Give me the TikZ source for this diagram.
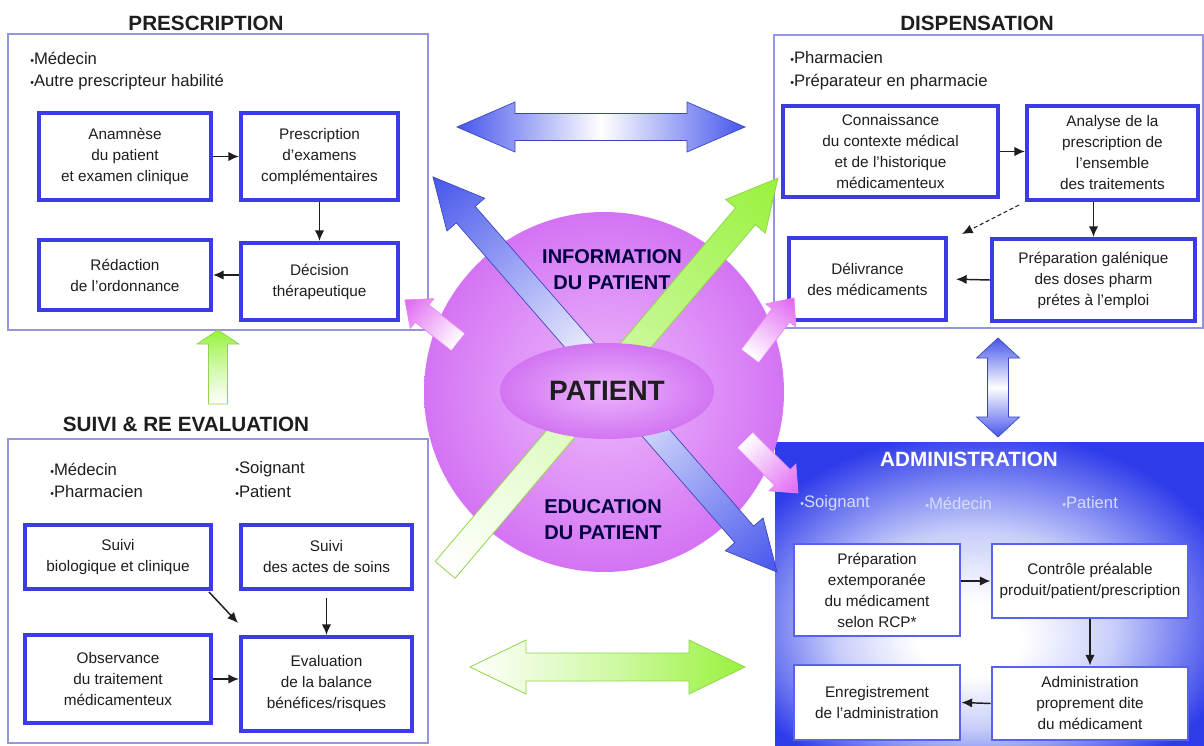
\documentclass[tikz,border=0pt]{standalone}
\usepackage{fontspec}
\setmainfont{Liberation Sans}
\usetikzlibrary{arrows.meta,shapes.geometric}
\definecolor{boxblue}{HTML}{3C3CE6}
\definecolor{frameblue}{HTML}{9494E2}
\definecolor{admblue}{HTML}{2E3BEA}
\definecolor{arrblue}{HTML}{4656EC}
\definecolor{lgreen}{HTML}{98F23C}
\definecolor{ballin}{HTML}{ECB8FB}
\definecolor{ballm}{HTML}{DE90F7}
\definecolor{ballmid}{HTML}{CA56F0}
\definecolor{ballout}{HTML}{B832EA}
\definecolor{elin}{HTML}{ECB4FB}
\definecolor{elout}{HTML}{B834EA}
\definecolor{pinkarr}{HTML}{E064F2}
\definecolor{admlite}{HTML}{D4DCFF}
\definecolor{admglow}{HTML}{C8CEFA}
\definecolor{txt}{HTML}{1E1E1E}
\pgfdeclareradialshading{ballshade}{\pgfpoint{0bp}{0bp}}{color(0bp)=(ballin); color(15bp)=(ballm); color(35bp)=(ballmid); color(50bp)=(ballout)}
\pgfdeclareradialshading{elshade}{\pgfpoint{0bp}{0bp}}{color(0bp)=(elin); color(50bp)=(elout)}
\pgfdeclareradialshading{admshade}{\pgfpoint{-3bp}{-8bp}}{color(0bp)=(white); color(6bp)=(white); color(16bp)=(admglow); color(30bp)=(admblue); color(50bp)=(admblue)}
\tikzset{
  inbox/.style={draw=boxblue, line width=3pt, fill=white, align=center, inner sep=0pt, text=txt, font=\fontsize{11.5}{15.75}\selectfont},
  admbox/.style={draw=admblue!80!white, line width=2.2pt, fill=white, align=center, inner sep=0pt, text=txt, font=\fontsize{11.5}{15.75}\selectfont},
  frame/.style={draw=frameblue, line width=1.1pt, inner sep=0pt},
  ttl/.style={font=\bfseries\fontsize{15.5}{18}\selectfont, text=txt, inner sep=0pt},
  bull/.style={font=\fontsize{12.5}{15}\selectfont, text=txt, anchor=west, inner sep=0pt},
  conn/.style={-{Latex[length=8pt,width=7pt]}, line width=1.1pt, draw=txt},
  balltxt/.style={font=\bfseries\fontsize{15}{19.5}\selectfont, text=black!75!blue, align=center, inner sep=0pt},
  bluedbl/.style={draw=arrblue!80!black, line width=0.5pt, left color=arrblue, right color=arrblue, middle color=white},
  greenarr/.style={draw=lgreen!75!gray, line width=0.6pt, left color=white, right color=lgreen, middle color=lgreen!45!white},
  pinkar/.style={draw=pinkarr!80!white, line width=0.5pt, left color=white, right color=pinkarr}
}
\newcommand{\bul}{{\fontsize{8}{8}\selectfont•}}
\newcommand{\bx}[7]{\node[#7, minimum width={(#4-#2-4)*0.75pt}, minimum height={(#5-#3-4)*0.75pt}] (#1) at ({(#2+#4)/2},{(#3+#5)/2}) {#6};}
\newcommand{\dblarrow}[8]{\begin{scope}[transform canvas={shift={(#1,#2)},rotate=#3}]
  \path[#8] ({-#4/2},0) -- ({-#4/2+#7},{#6}) -- ({-#4/2+#7},{#5}) -- ({#4/2-#7},{#5}) -- ({#4/2-#7},{#6}) -- ({#4/2},0) -- ({#4/2-#7},{-#6}) -- ({#4/2-#7},{-#5}) -- ({-#4/2+#7},{-#5}) -- ({-#4/2+#7},{-#6}) -- cycle;
  \end{scope}}
\newcommand{\sglarrow}[8]{\begin{scope}[transform canvas={shift={(#1,#2)},rotate=#3}]
  \path[#8] ({-#4/2},{#5}) -- ({#4/2-#7},{#5}) -- ({#4/2-#7},{#6}) -- ({#4/2},0) -- ({#4/2-#7},{-#6}) -- ({#4/2-#7},{-#5}) -- ({-#4/2},{-#5}) -- cycle;
  \end{scope}}
\begin{document}
\begin{tikzpicture}[x=0.75pt,y=-0.75pt]
\useasboundingbox (0,0) rectangle (1204,746);
\fill[white] (0,0) rectangle (1204,746);

% ---------- ADMINISTRATION background
\node[shade, shading=admshade, minimum width={435*0.75pt}, minimum height={308*0.75pt}, inner sep=0pt] (admbg) at (992.5,596) {};

% ---------- frames
\bx{fpres}{6}{32}{430}{332}{}{frame}
\bx{fdisp}{772}{33}{1205}{330}{}{frame}
\bx{fsuivi}{6}{437}{430}{745}{}{frame}

% ---------- titles
\node[ttl] (tpres) at (206,23) {PRESCRIPTION};
\node[ttl] (tdisp) at (977,23) {DISPENSATION};
\node[ttl] (tsuivi) at (186,424) {SUIVI \& RE EVALUATION};
\node[ttl, text=white] (tadm) at (969,459) {ADMINISTRATION};

% ---------- bullets
\node[bull] (bp1) at (30,58) {\bul Médecin};
\node[bull] (bp2) at (30,82) {\bul Autre prescripteur habilité};
\node[bull] (bd1) at (790,58) {\bul Pharmacien};
\node[bull] (bd2) at (790,82) {\bul Préparateur en pharmacie};
\node[bull] (bs1) at (50,469) {\bul Médecin};
\node[bull] (bs2) at (50,492) {\bul Pharmacien};
\node[bull] (bs3) at (235,469) {\bul Soignant};
\node[bull] (bs4) at (235,492) {\bul Patient};
\node[bull, text=admlite] (ba1) at (800,503) {\bul Soignant};
\node[bull, text=admlite] (ba2) at (925,503) {\bul Médecin};
\node[bull, text=admlite] (ba3) at (1062,503) {\bul Patient};

% ---------- PRESCRIPTION boxes
\bx{anam}{37}{111}{213}{202}{Anamnèse\\du patient\\et examen clinique}{inbox}
\bx{presc}{239}{111}{400}{202}{Prescription\\d'examens\\complémentaires}{inbox}
\bx{red}{37}{238}{213}{312}{Rédaction\\de l'ordonnance}{inbox}
\bx{dec}{239}{241}{400}{322}{Décision\\thérapeutique}{inbox}
\draw[conn] (anam.east) -- (presc.west);
\draw[conn] (presc.south) -- (dec.north);
\draw[conn] (dec.west |- red.east) -- (red.east);

% ---------- DISPENSATION boxes
\bx{conn}{781}{104}{1000}{199}{Connaissance\\du contexte médical\\et de l'historique\\médicamenteux}{inbox}
\bx{anal}{1025}{104}{1200}{202}{Analyse de la\\prescription de\\l'ensemble\\des traitements}{inbox}
\bx{deliv}{787}{236}{948}{322}{Délivrance\\des médicaments}{inbox}
\bx{prepg}{990}{237}{1197}{323}{Préparation galénique\\des doses pharm\\prétes à l'emploi}{inbox}
\draw[conn] (conn.east) -- (anal.west |- conn.east);
\draw[conn] (anal.south -| prepg.north) -- (prepg.north);
\draw[conn, densely dashed, line width=0.8pt] ([shift={(-6,3)}]anal.south west) -- ([shift={(14,-2)}]deliv.north east);
\draw[conn, shorten >=6pt] (prepg.west) -- (deliv.east);

% ---------- SUIVI boxes
\bx{bio}{23}{523}{213}{591}{Suivi\\biologique et clinique}{inbox}
\bx{actes}{239}{523}{414}{591}{Suivi\\des actes de soins}{inbox}
\bx{obs}{23}{633}{213}{725}{Observance\\du traitement\\médicamenteux}{inbox}
\bx{eval}{239}{635}{414}{733}{Evaluation\\de la balance\\bénéfices/risques}{inbox}
\draw[conn] ([shift={(-4,1)}]bio.south east) -- ([shift={(-1,-12)}]eval.north west);
\draw[conn, shorten <=5pt] (actes.south) -- (eval.north);
\draw[conn] (obs.east) -- (eval.west |- obs.east);

% ---------- ADMINISTRATION boxes
\bx{prep}{792}{542}{962}{638}{Préparation\\extemporanée\\du médicament\\selon RCP*}{admbox}
\bx{ctrl}{990}{542}{1190}{620}{Contrôle préalable\\produit/patient/prescription}{admbox}
\bx{enreg}{792}{663}{962}{742}{Enregistrement\\de l'administration}{admbox}
\bx{admp}{990}{665}{1190}{742}{Administration\\proprement dite\\du médicament}{admbox}
\draw[conn] (prep.east |- ctrl.west) -- (ctrl.west);
\draw[conn] (ctrl.south) -- (admp.north);
\draw[conn] (admp.west) -- (enreg.east);

% ---------- central circle
\node[circle, shade, shading=ballshade, minimum size={360*0.75pt}, inner sep=0pt] (ball) at (604,392) {};

% ---------- big arrows
\dblarrow{601}{127}{0}{288}{13.5}{25}{58}{bluedbl}
\dblarrow{605}{374.5}{131.05}{524}{12.5}{25}{50}{bluedbl}
\sglarrow{611.5}{374}{49.65}{514}{13}{26}{50}{greenarr}
\sglarrow{218}{367}{90}{74}{9.5}{21}{14}{greenarr}
\dblarrow{998}{387.5}{90}{99}{10.5}{21.5}{20}{bluedbl}
\dblarrow{607.5}{667}{0}{275}{14}{27}{56}{greenarr}

% ---------- patient ellipse and texts
\node[ellipse, shade, shading=elshade, minimum width={214*0.75pt}, minimum height={96*0.75pt}, inner sep=0pt, font=\bfseries\fontsize{21}{24}\selectfont, text=txt] (pat) at (607,391) {PATIENT};
\node[balltxt] (info) at (612,270) {INFORMATION\\DU PATIENT};
\node[balltxt] (educ) at (603,520) {EDUCATION\\DU PATIENT};

% ---------- pink arrows
\sglarrow{431.5}{321}{141.6}{68}{11}{19}{22}{pinkar}
\sglarrow{772}{327}{52.8}{73}{11}{19}{22}{pinkar}
\sglarrow{771.5}{466.5}{-45}{75}{11}{19}{22}{pinkar}
\end{tikzpicture}
\end{document}
